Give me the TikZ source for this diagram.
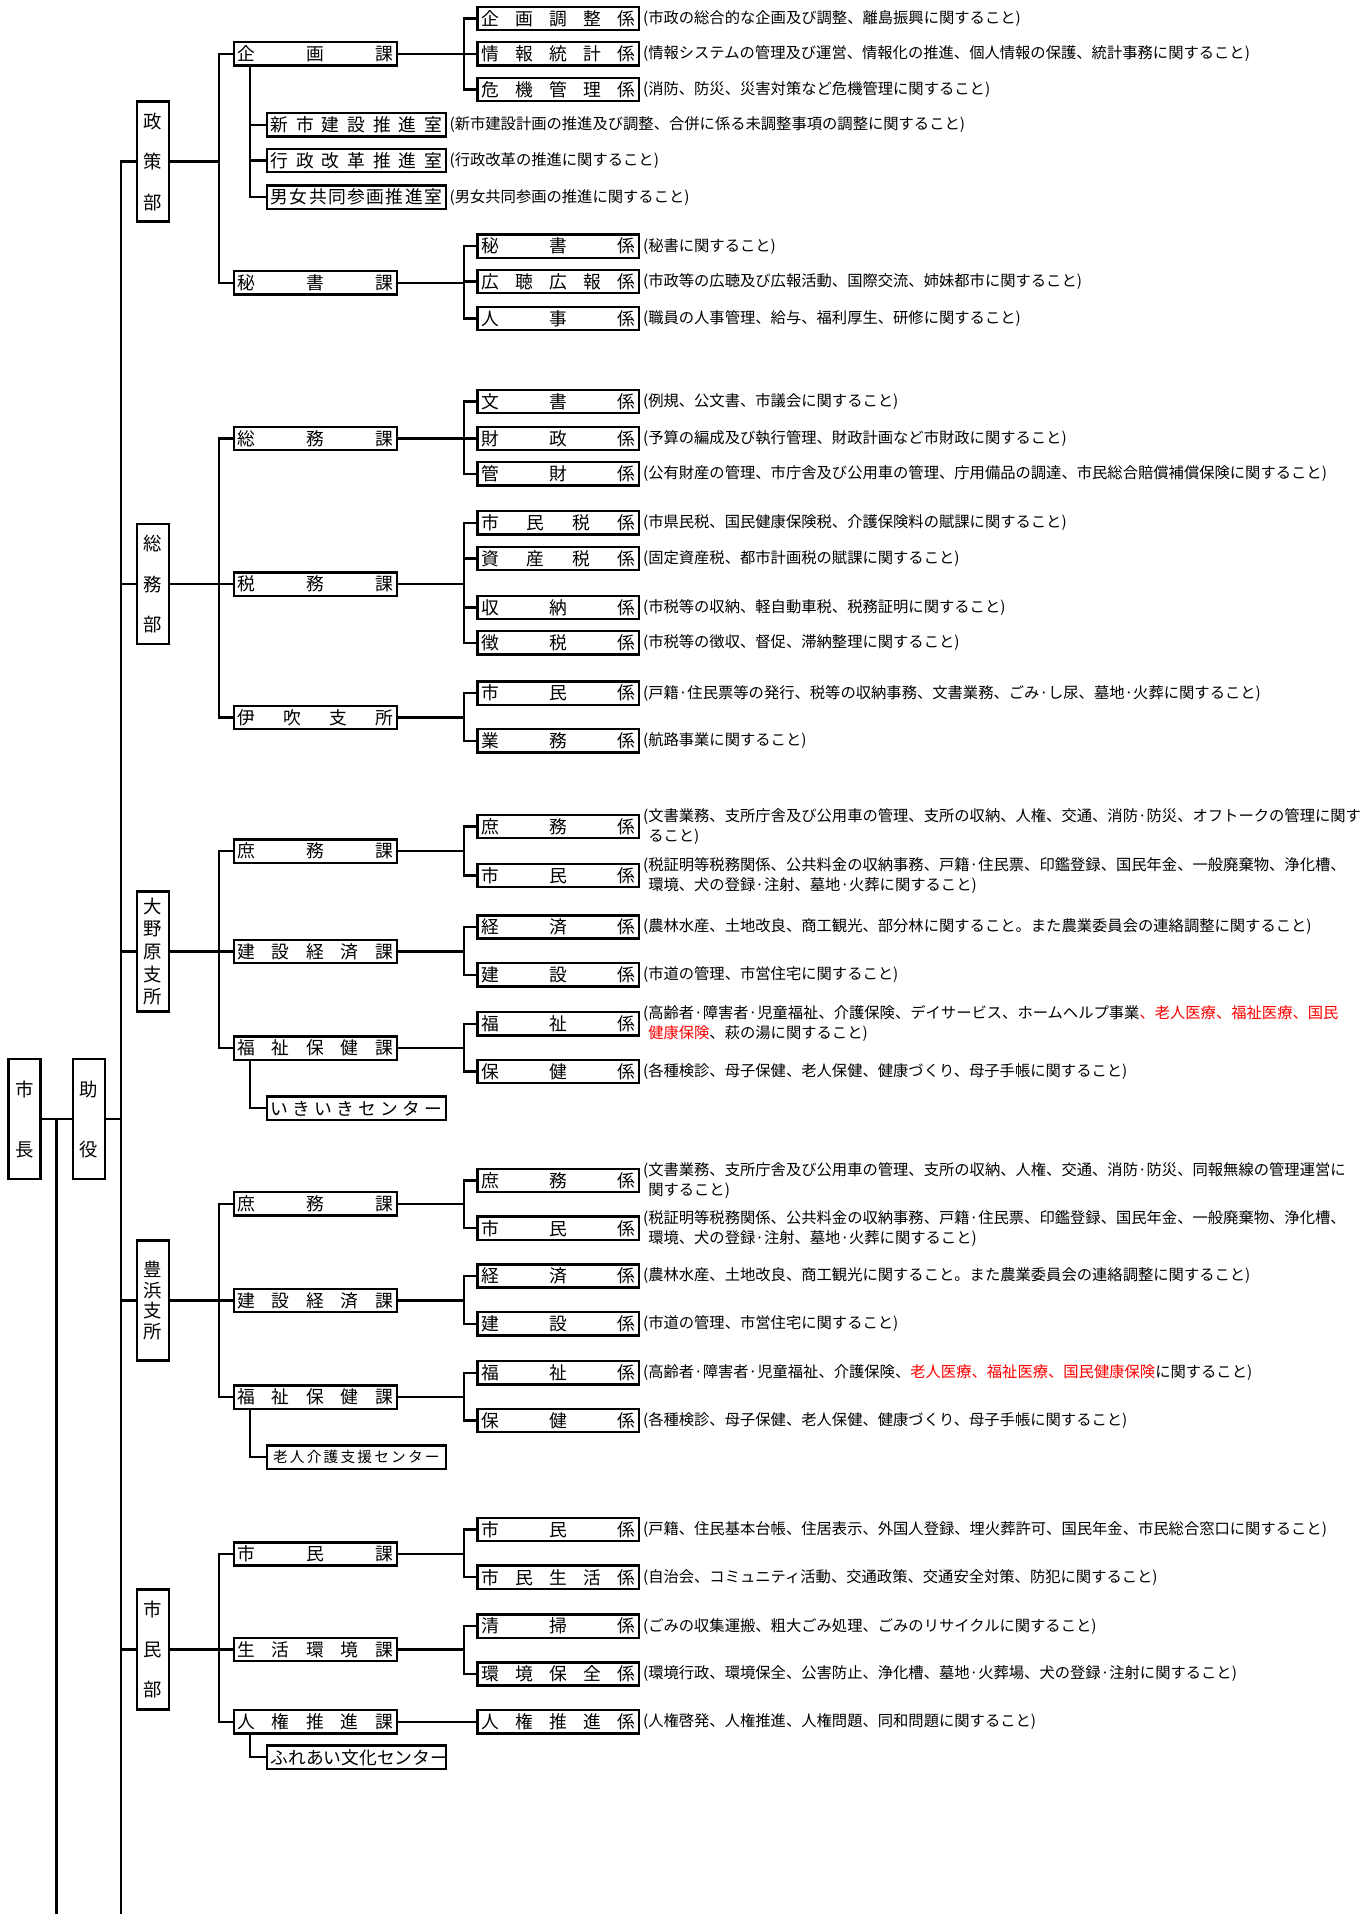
\documentclass[tikz,border=0pt]{standalone}
\usepackage{fontspec}
\setmainfont{Noto Sans CJK JP}
\usetikzlibrary{positioning}

% spread the characters of a label over the whole box
\def\gobbleone#1{}
\def\haichi#1{\haichiA#1\relax}
\def\haichiA#1#2{#1\ifx\relax#2\expandafter\gobbleone\else\hfill\expandafter\haichiA\fi#2}
\newcommand{\kaji}[2][126pt]{\hbox to #1{\expandafter\haichi\expandafter{#2}}}

\tikzset{
  sen/.style={line width=1.9pt, line cap=rect},
  waku/.style={draw, line width=1.9pt, inner sep=0pt, minimum height=19pt, font=\fontsize{14.5}{14.5}\selectfont},
  bu/.style={draw, line width=1.9pt, inner sep=0pt, minimum width=26pt, minimum height=98pt, align=center, font=\fontsize{15}{#1}\selectfont},
  ka/.style={waku, minimum width=133pt},
  kakari/.style={waku, minimum width=132pt},
  shitsu/.style={waku, minimum width=146pt},
  setsumei/.style={inner sep=0pt, align=left, font=\fontsize{12.5}{16}\selectfont},
}

\begin{document}
\begin{tikzpicture}[x=1pt,y=-1pt]
\useasboundingbox (0,0) rectangle (1115,1563);
\coordinate (soko) at (0,1563);

% shicho, joyaku
\node[bu=49] (shicho) at (20,914) {市\\長};
\node[bu=49] (joyaku) at (72.5,914) {助\\役};
\draw[sen] (shicho.east) -- coordinate[pos=.5] (sj) (joyaku.west);
\draw[sen] (sj) -- (sj |- soko);

% bu
\node[bu=33] (seisaku) at (125,132) {政\\策\\部};
\node[bu=33] (somu) at (125,477) {総\\務\\部};
\node[bu=18.5] (onohara) at (125,777) {大\\野\\原\\支\\所};
\node[bu=17] (toyohama) at (125,1062) {豊\\浜\\支\\所};
\node[bu=33] (shimin) at (125,1347) {市\\民\\部};

\coordinate (miki) at (99,132);
\draw[sen] (miki) -- (miki |- soko);
\draw[sen] (joyaku.east) -- (joyaku.east -| miki);
\foreach \b in {seisaku,somu,onohara,toyohama,shimin}
  \draw[sen] (\b.west) -- (\b.west -| miki);

%%% seisaku
\node[ka] (kikaku) at (257.5,44) {\kaji[127pt]{企画課}};
\node[ka] (hisho) at (257.5,231) {\kaji[127pt]{秘書課}};
\draw[sen] (seisaku.east) -- ++(40,0) coordinate (seisakuJ);
\foreach \n in {kikaku,hisho} \draw[sen] (\n.west) -| (seisakuJ);

\draw[sen] (kikaku.east) -- ++(54,0) coordinate (kikakuJ);
\foreach \n/\y/\m/\s in {
  kikaku1/15/企画調整係/{(市政の総合的な企画及び調整、離島振興に関すること)},
  kikaku2/44/情報統計係/{(情報システムの管理及び運営、情報化の推進、個人情報の保護、統計事務に関すること)},
  kikaku3/73/危機管理係/{(消防、防災、災害対策など危機管理に関すること)}} {
  \node[kakari] (\n) at (456,\y) {\kaji{\m}};
  \node[setsumei, right=2pt of \n] {\s};
  \draw[sen] (\n.west) -| (kikakuJ);
}
\coordinate (kikakuS) at ([xshift=14pt]kikaku.south west);
\foreach \n/\y/\m/\s in {
  shinshi/102/新市建設推進室/{(新市建設計画の推進及び調整、合併に係る未調整事項の調整に関すること)},
  gyosei/131/行政改革推進室/{(行政改革の推進に関すること)},
  danjo/161/男女共同参画推進室/{(男女共同参画の推進に関すること)}} {
  \node[shitsu] (\n) at (291,\y) {\kaji[140pt]{\m}};
  \node[setsumei, right=2pt of \n] {\s};
  \draw[sen] (kikakuS) |- (\n.west);
}

\draw[sen] (hisho.east) -- ++(54,0) coordinate (hishoJ);
\foreach \n/\y/\m/\s in {
  hisho1/201/秘書係/{(秘書に関すること)},
  hisho2/230/広聴広報係/{(市政等の広聴及び広報活動、国際交流、姉妹都市に関すること)},
  hisho3/260/人事係/{(職員の人事管理、給与、福利厚生、研修に関すること)}} {
  \node[kakari] (\n) at (456,\y) {\kaji{\m}};
  \node[setsumei, right=2pt of \n] {\s};
  \draw[sen] (\n.west) -| (hishoJ);
}

%%% somu
\node[ka] (somuka) at (257.5,358) {\kaji[127pt]{総務課}};
\node[ka] (zeimu) at (257.5,477) {\kaji[127pt]{税務課}};
\node[ka] (ibuki) at (257.5,586) {\kaji[127pt]{伊吹支所}};
\draw[sen] (somu.east) -- ++(40,0) coordinate (somuJ);
\foreach \n in {somuka,zeimu,ibuki} \draw[sen] (\n.west) -| (somuJ);

\draw[sen] (somuka.east) -- ++(54,0) coordinate (somukaJ);
\foreach \n/\y/\m/\s in {
  somu1/328/文書係/{(例規、公文書、市議会に関すること)},
  somu2/358/財政係/{(予算の編成及び執行管理、財政計画など市財政に関すること)},
  somu3/387/管財係/{(公有財産の管理、市庁舎及び公用車の管理、庁用備品の調達、市民総合賠償補償保険に関すること)}} {
  \node[kakari] (\n) at (456,\y) {\kaji{\m}};
  \node[setsumei, right=2pt of \n] {\s};
  \draw[sen] (\n.west) -| (somukaJ);
}
\draw[sen] (zeimu.east) -- ++(54,0) coordinate (zeimuJ);
\foreach \n/\y/\m/\s in {
  zeimu1/427/市民税係/{(市県民税、国民健康保険税、介護保険料の賦課に関すること)},
  zeimu2/456/資産税係/{(固定資産税、都市計画税の賦課に関すること)},
  zeimu3/496/収納係/{(市税等の収納、軽自動車税、税務証明に関すること)},
  zeimu4/525/徴税係/{(市税等の徴収、督促、滞納整理に関すること)}} {
  \node[kakari] (\n) at (456,\y) {\kaji{\m}};
  \node[setsumei, right=2pt of \n] {\s};
  \draw[sen] (\n.west) -| (zeimuJ);
}
\draw[sen] (ibuki.east) -- ++(54,0) coordinate (ibukiJ);
\foreach \n/\y/\m/\s in {
  ibuki1/566/市民係/{(戸籍·住民票等の発行、税等の収納事務、文書業務、ごみ·し尿、墓地·火葬に関すること)},
  ibuki2/605/業務係/{(航路事業に関すること)}} {
  \node[kakari] (\n) at (456,\y) {\kaji{\m}};
  \node[setsumei, right=2pt of \n] {\s};
  \draw[sen] (\n.west) -| (ibukiJ);
}

%%% onohara
\node[ka] (oshomu) at (257.5,695) {\kaji[127pt]{庶務課}};
\node[ka] (okensetsu) at (257.5,777) {\kaji[127pt]{建設経済課}};
\node[ka] (ofukushi) at (257.5,856) {\kaji[127pt]{福祉保健課}};
\draw[sen] (onohara.east) -- ++(40,0) coordinate (onoharaJ);
\foreach \n in {oshomu,okensetsu,ofukushi} \draw[sen] (\n.west) -| (onoharaJ);

\draw[sen] (oshomu.east) -- ++(54,0) coordinate (oshomuJ);
\foreach \n/\y/\m/\s in {
  oshomu1/675/庶務係/{(文書業務、支所庁舎及び公用車の管理、支所の収納、人権、交通、消防·防災、オフトークの管理に関す\\\phantom{(}ること)},
  oshomu2/715/市民係/{(税証明等税務関係、公共料金の収納事務、戸籍·住民票、印鑑登録、国民年金、一般廃棄物、浄化槽、\\\phantom{(}環境、犬の登録·注射、墓地·火葬に関すること)}} {
  \node[kakari] (\n) at (456,\y) {\kaji{\m}};
  \node[setsumei, right=2pt of \n] {\s};
  \draw[sen] (\n.west) -| (oshomuJ);
}
\draw[sen] (okensetsu.east) -- ++(54,0) coordinate (okensetsuJ);
\foreach \n/\y/\m/\s in {
  okensetsu1/757/経済係/{(農林水産、土地改良、商工観光、部分林に関すること。また農業委員会の連絡調整に関すること)},
  okensetsu2/796/建設係/{(市道の管理、市営住宅に関すること)}} {
  \node[kakari] (\n) at (456,\y) {\kaji{\m}};
  \node[setsumei, right=2pt of \n] {\s};
  \draw[sen] (\n.west) -| (okensetsuJ);
}
\draw[sen] (ofukushi.east) -- ++(54,0) coordinate (ofukushiJ);
\foreach \n/\y/\m/\s in {
  ofukushi1/836/福祉係/{(高齢者·障害者·児童福祉、介護保険、デイサービス、ホームヘルプ事業\textcolor{red}{、老人医療、福祉医療、国民}\\\phantom{(}\textcolor{red}{健康保険}、萩の湯に関すること)},
  ofukushi2/875/保健係/{(各種検診、母子保健、老人保健、健康づくり、母子手帳に関すること)}} {
  \node[kakari] (\n) at (456,\y) {\kaji{\m}};
  \node[setsumei, right=2pt of \n] {\s};
  \draw[sen] (\n.west) -| (ofukushiJ);
}
\coordinate (ofukushiS) at ([xshift=14pt]ofukushi.south west);
\node[shitsu] (ikiiki) at (291,905) {\kaji[140pt]{いきいきセンター}};
\draw[sen] (ofukushiS) |- (ikiiki.west);

%%% toyohama
\node[ka] (tshomu) at (257.5,983) {\kaji[127pt]{庶務課}};
\node[ka] (tkensetsu) at (257.5,1062) {\kaji[127pt]{建設経済課}};
\node[ka] (tfukushi) at (257.5,1141) {\kaji[127pt]{福祉保健課}};
\draw[sen] (toyohama.east) -- ++(40,0) coordinate (toyohamaJ);
\foreach \n in {tshomu,tkensetsu,tfukushi} \draw[sen] (\n.west) -| (toyohamaJ);

\draw[sen] (tshomu.east) -- ++(54,0) coordinate (tshomuJ);
\foreach \n/\y/\m/\s in {
  tshomu1/964/庶務係/{(文書業務、支所庁舎及び公用車の管理、支所の収納、人権、交通、消防·防災、同報無線の管理運営に\\\phantom{(}関すること)},
  tshomu2/1003/市民係/{(税証明等税務関係、公共料金の収納事務、戸籍·住民票、印鑑登録、国民年金、一般廃棄物、浄化槽、\\\phantom{(}環境、犬の登録·注射、墓地·火葬に関すること)}} {
  \node[kakari] (\n) at (456,\y) {\kaji{\m}};
  \node[setsumei, right=2pt of \n] {\s};
  \draw[sen] (\n.west) -| (tshomuJ);
}
\draw[sen] (tkensetsu.east) -- ++(54,0) coordinate (tkensetsuJ);
\foreach \n/\y/\m/\s in {
  tkensetsu1/1042/経済係/{(農林水産、土地改良、商工観光に関すること。また農業委員会の連絡調整に関すること)},
  tkensetsu2/1081/建設係/{(市道の管理、市営住宅に関すること)}} {
  \node[kakari] (\n) at (456,\y) {\kaji{\m}};
  \node[setsumei, right=2pt of \n] {\s};
  \draw[sen] (\n.west) -| (tkensetsuJ);
}
\draw[sen] (tfukushi.east) -- ++(54,0) coordinate (tfukushiJ);
\foreach \n/\y/\m/\s in {
  tfukushi1/1121/福祉係/{(高齢者·障害者·児童福祉、介護保険、\textcolor{red}{老人医療、福祉医療、国民健康保険}に関すること)},
  tfukushi2/1160/保健係/{(各種検診、母子保健、老人保健、健康づくり、母子手帳に関すること)}} {
  \node[kakari] (\n) at (456,\y) {\kaji{\m}};
  \node[setsumei, right=2pt of \n] {\s};
  \draw[sen] (\n.west) -| (tfukushiJ);
}
\coordinate (tfukushiS) at ([xshift=14pt]tfukushi.south west);
\node[shitsu, font=\fontsize{12}{12}\selectfont] (rojin) at (291,1190) {\kaji[136pt]{老人介護支援センター}};
\draw[sen] (tfukushiS) |- (rojin.west);

%%% shimin
\node[ka] (shiminka) at (257.5,1269) {\kaji[127pt]{市民課}};
\node[ka] (seikatsu) at (257.5,1347) {\kaji[127pt]{生活環境課}};
\node[ka] (jinken) at (257.5,1406) {\kaji[127pt]{人権推進課}};
\draw[sen] (shimin.east) -- ++(40,0) coordinate (shiminJ);
\foreach \n in {shiminka,seikatsu,jinken} \draw[sen] (\n.west) -| (shiminJ);

\draw[sen] (shiminka.east) -- ++(54,0) coordinate (shiminkaJ);
\foreach \n/\y/\m/\s in {
  shiminka1/1249/市民係/{(戸籍、住民基本台帳、住居表示、外国人登録、埋火葬許可、国民年金、市民総合窓口に関すること)},
  shiminka2/1288/市民生活係/{(自治会、コミュニティ活動、交通政策、交通安全対策、防犯に関すること)}} {
  \node[kakari] (\n) at (456,\y) {\kaji{\m}};
  \node[setsumei, right=2pt of \n] {\s};
  \draw[sen] (\n.west) -| (shiminkaJ);
}
\draw[sen] (seikatsu.east) -- ++(54,0) coordinate (seikatsuJ);
\foreach \n/\y/\m/\s in {
  seikatsu1/1328/清掃係/{(ごみの収集運搬、粗大ごみ処理、ごみのリサイクルに関すること)},
  seikatsu2/1367/環境保全係/{(環境行政、環境保全、公害防止、浄化槽、墓地·火葬場、犬の登録·注射に関すること)}} {
  \node[kakari] (\n) at (456,\y) {\kaji{\m}};
  \node[setsumei, right=2pt of \n] {\s};
  \draw[sen] (\n.west) -| (seikatsuJ);
}
\node[kakari] (jinken1) at (456,1406) {\kaji{人権推進係}};
\node[setsumei, right=2pt of jinken1] {(人権啓発、人権推進、人権問題、同和問題に関すること)};
\draw[sen] (jinken.east) -- (jinken1.west);
\coordinate (jinkenS) at ([xshift=14pt]jinken.south west);
\node[shitsu] (fureai) at (291,1435) {\kaji[140pt]{ふれあい文化センター}};
\draw[sen] (jinkenS) |- (fureai.west);
\end{tikzpicture}
\end{document}
